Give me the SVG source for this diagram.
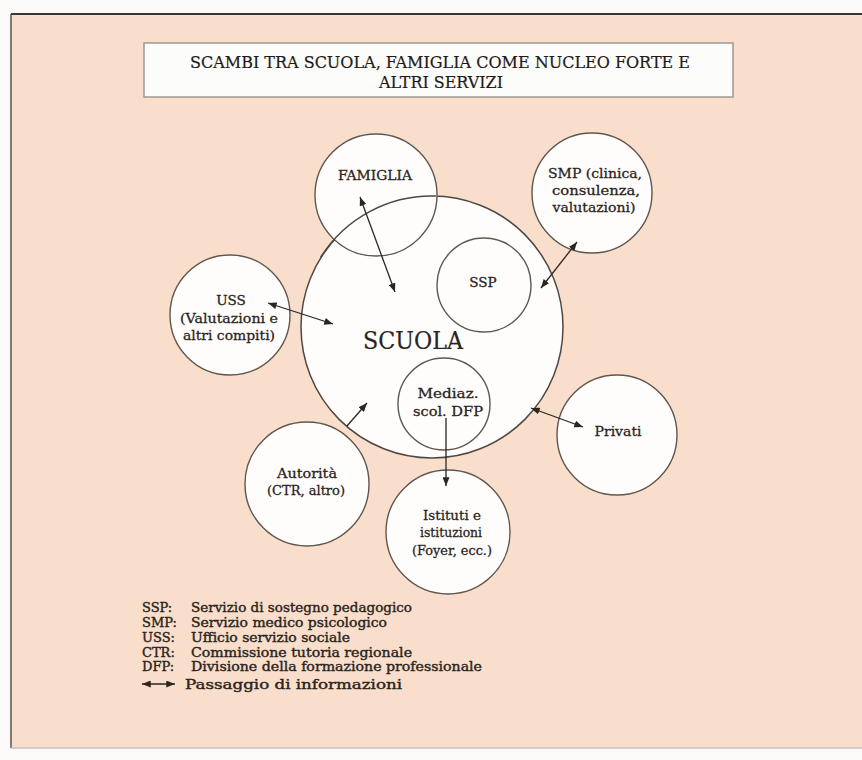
<svg xmlns="http://www.w3.org/2000/svg" width="862" height="760" viewBox="0 0 862 760">
<defs>
<style>
.lbl{font-family:"DejaVu Serif","Liberation Serif",serif;font-size:13.5px;fill:#2a2421;stroke:#2a2421;stroke-width:0.3;text-anchor:middle}
.node circle{fill:#fffdfb;stroke:#5f5650;stroke-width:1.4}
.conn line{stroke:#2a2622;stroke-width:1.3;fill:none}
.leg{font-family:"DejaVu Serif","Liberation Serif",serif;font-size:13px;fill:#2a2421;stroke:#2a2421;stroke-width:0.4}
.title{font-family:"DejaVu Serif","Liberation Serif",serif;font-size:16px;fill:#1e1a18;stroke:#1e1a18;stroke-width:0.2;text-anchor:middle}
</style>
<marker id="ah" viewBox="0 0 10 8" refX="10" refY="4" markerWidth="9" markerHeight="7" markerUnits="userSpaceOnUse" orient="auto-start-reverse">
<path d="M0,0 L10,4 L0,8 Z" fill="#2a2622"/>
</marker>
</defs>
<rect x="0" y="0" width="862" height="760" fill="#fbfaf8"/>
<rect x="11" y="14" width="851" height="734" fill="#f9dfcb"/>
<line x1="11" y1="14" x2="862" y2="14" stroke="#3a3634" stroke-width="2"/>
<line x1="11" y1="14" x2="11" y2="748" stroke="#555" stroke-width="1.5"/>
<line x1="11" y1="748" x2="862" y2="748" stroke="#c9c2bc" stroke-width="1.5"/>

<g id="title">
<rect x="144" y="43" width="589" height="54" fill="#fcfcfb" stroke="#9d9893" stroke-width="1.5"/>
<text class="title" x="440" y="68" textLength="500" lengthAdjust="spacingAndGlyphs">SCAMBI TRA SCUOLA, FAMIGLIA COME NUCLEO FORTE E</text>
<text class="title" x="441" y="88" textLength="124" lengthAdjust="spacingAndGlyphs">ALTRI SERVIZI</text>
</g>

<g id="scuola" class="node">
<circle cx="432" cy="327" r="131" style="stroke:#4e4743;stroke-width:1.5"/>
<text class="lbl" x="413" y="349" style="font-size:24px;stroke-width:0.2" textLength="100" lengthAdjust="spacingAndGlyphs">SCUOLA</text>
</g>

<g id="famiglia" class="node">
<circle cx="376" cy="195" r="61"/>
<text class="lbl" x="375" y="180" textLength="74" lengthAdjust="spacingAndGlyphs">FAMIGLIA</text>
</g>

<g id="scuola-outline">
<path d="M 320.6 257.4 A 131 131 0 0 1 436 196.1" fill="none" stroke="#4e4743" stroke-width="1.5"/>
</g>

<g id="ssp" class="node">
<circle cx="484" cy="285" r="47"/>
<text class="lbl" x="483" y="287">SSP</text>
</g>

<g id="mediaz" class="node">
<circle cx="444" cy="404" r="46"/>
<text class="lbl" x="448" y="398" textLength="61" lengthAdjust="spacingAndGlyphs">Mediaz.</text>
<text class="lbl" x="448" y="416" textLength="70" lengthAdjust="spacingAndGlyphs">scol. DFP</text>
</g>

<g id="smp" class="node">
<circle cx="592" cy="193" r="60"/>
<text class="lbl" x="595" y="178" textLength="94" lengthAdjust="spacingAndGlyphs">SMP (clinica,</text>
<text class="lbl" x="596" y="195" textLength="88" lengthAdjust="spacingAndGlyphs">consulenza,</text>
<text class="lbl" x="594" y="212" textLength="83" lengthAdjust="spacingAndGlyphs">valutazioni)</text>
</g>

<g id="uss" class="node">
<circle cx="230" cy="315" r="60"/>
<text class="lbl" x="231" y="305">USS</text>
<text class="lbl" x="229" y="323" textLength="98" lengthAdjust="spacingAndGlyphs">(Valutazioni e</text>
<text class="lbl" x="229" y="340" textLength="92" lengthAdjust="spacingAndGlyphs">altri compiti)</text>
</g>

<g id="privati" class="node">
<circle cx="617" cy="435" r="60"/>
<text class="lbl" x="618" y="436" textLength="47" lengthAdjust="spacingAndGlyphs">Privati</text>
</g>

<g id="autorita" class="node">
<circle cx="307" cy="484" r="62"/>
<text class="lbl" x="307" y="478" textLength="60" lengthAdjust="spacingAndGlyphs">Autorità</text>
<text class="lbl" x="306" y="495" textLength="78" lengthAdjust="spacingAndGlyphs">(CTR, altro)</text>
</g>

<g id="istituti" class="node">
<circle cx="448" cy="532" r="62"/>
<text class="lbl" x="452" y="520" textLength="58" lengthAdjust="spacingAndGlyphs">Istituti e</text>
<text class="lbl" x="451" y="537" textLength="62" lengthAdjust="spacingAndGlyphs">istituzioni</text>
<text class="lbl" x="452" y="555" textLength="80" lengthAdjust="spacingAndGlyphs">(Foyer, ecc.)</text>
</g>

<g id="connectors" class="conn">
<line x1="360" y1="197" x2="395" y2="292" marker-start="url(#ah)" marker-end="url(#ah)"/>
<line x1="268" y1="303" x2="333" y2="324" marker-start="url(#ah)" marker-end="url(#ah)"/>
<line x1="577" y1="242" x2="541" y2="288" marker-start="url(#ah)" marker-end="url(#ah)"/>
<line x1="531" y1="408" x2="583" y2="427" marker-start="url(#ah)" marker-end="url(#ah)"/>
<line x1="347" y1="426" x2="367" y2="403" marker-end="url(#ah)"/>
<line x1="446" y1="418" x2="446" y2="486" marker-end="url(#ah)"/>
</g>

<g id="legend">
<text class="leg" x="142" y="612">SSP:</text>
<text class="leg" x="191" y="612" textLength="221" lengthAdjust="spacingAndGlyphs">Servizio di sostegno pedagogico</text>
<text class="leg" x="142" y="627">SMP:</text>
<text class="leg" x="191" y="627" textLength="196" lengthAdjust="spacingAndGlyphs">Servizio medico psicologico</text>
<text class="leg" x="142" y="642">USS:</text>
<text class="leg" x="191" y="642" textLength="159" lengthAdjust="spacingAndGlyphs">Ufficio servizio sociale</text>
<text class="leg" x="142" y="657">CTR:</text>
<text class="leg" x="191" y="657" textLength="221" lengthAdjust="spacingAndGlyphs">Commissione tutoria regionale</text>
<text class="leg" x="142" y="671">DFP:</text>
<text class="leg" x="191" y="671" textLength="291" lengthAdjust="spacingAndGlyphs">Divisione della formazione professionale</text>
<line x1="142" y1="684" x2="175" y2="684" stroke="#2a2622" stroke-width="1.3" marker-start="url(#ah)" marker-end="url(#ah)"/>
<text class="leg" x="185" y="689" textLength="217" lengthAdjust="spacingAndGlyphs">Passaggio di informazioni</text>
</g>
</svg>
